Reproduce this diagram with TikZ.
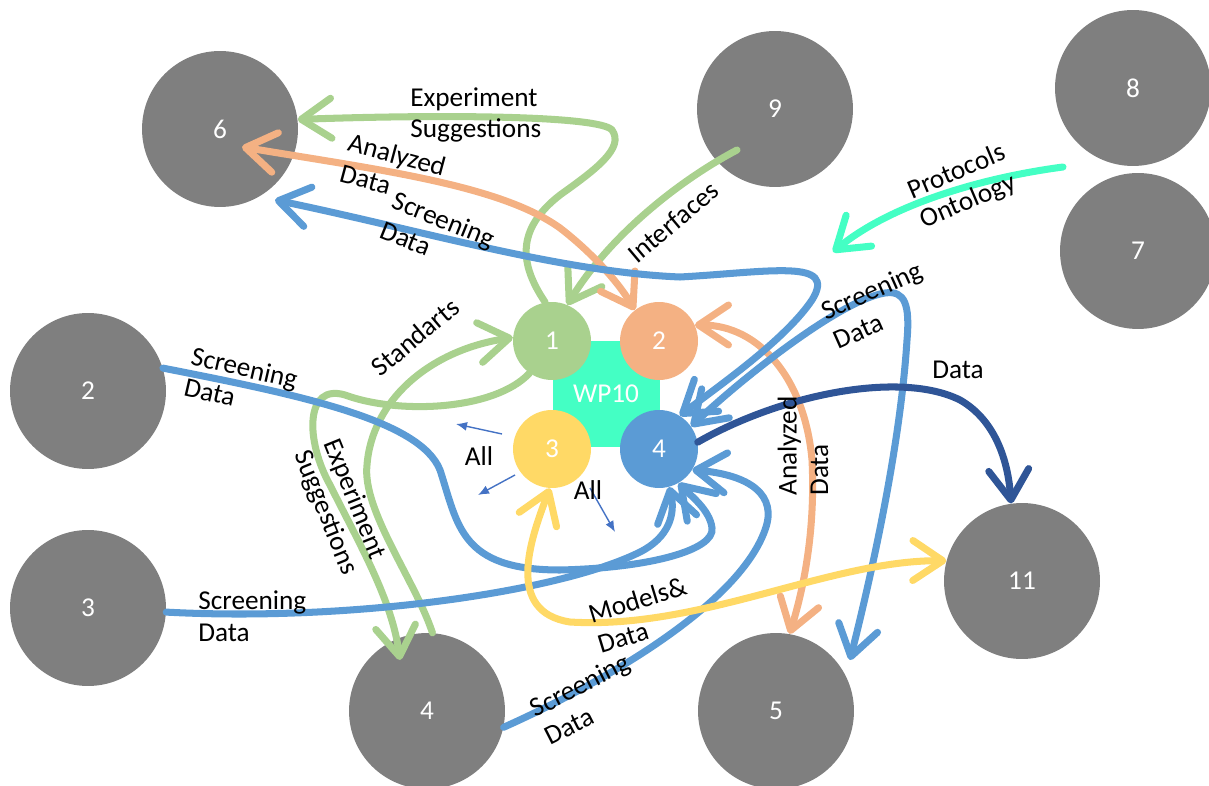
\documentclass[tikz,border=0pt]{standalone}
\usepackage{fontspec}
\setmainfont{Carlito}
\usetikzlibrary{arrows.meta}
\definecolor{gry}{HTML}{7F7F7F}
\definecolor{grn}{HTML}{A9D18E}
\definecolor{org}{HTML}{F4B183}
\definecolor{blu}{HTML}{5B9BD5}
\definecolor{dblu}{HTML}{2F5597}
\definecolor{ylw}{HTML}{FFD966}
\definecolor{aqu}{HTML}{44FFC4}
\definecolor{allblu}{HTML}{4472C4}
\newcommand{\flowwd}{4pt}
\newcommand{\bigd}{3.12cm}
\newcommand{\smalld}{1.56cm}
\newcommand{\barb}{Straight Barb[length=6mm,width=8mm,round]}

\begin{document}
\begin{tikzpicture}[x=0.02cm, y=-0.02cm, font=\fontsize{15.5pt}{18pt}\selectfont]
    \tikzset{
        ext/.style={circle, fill=gry, minimum size=\bigd, inner sep=0pt, text=white},
        wp/.style={circle, minimum size=\smalld, inner sep=0pt, text=white},
        flow/.style={line width=\flowwd, line cap=round},
        onehead/.style={-{\barb}},
        twohead/.style={{\barb}-{\barb}},
        lbl/.style={align=left, inner sep=0pt},
        allarrow/.style={draw=allblu, line width=0.8pt, -{Latex[length=2.2mm,width=1.8mm]}}
    }
    \useasboundingbox (0,0) rectangle (1209,786);
    %\draw[help lines, step=50] (0,0) grid (1209,786);
    % partner circles
    \foreach \n/\x/\y in {6/220/129, 9/775/109, 8/1133/88, 7/1138/251, 2/88/391, 3/88/608, 4/427/711, 5/776/711, 11/1022/581} {
        \node[ext] (g\n) at (\x,\y) {\n};
    }
    % WP10 block
    \node[fill=aqu, minimum size=2.14cm, inner sep=0pt, text=white] (wp) at (606,394) {WP10};
    \node[wp, fill=grn] (w1) at (552,341) {1};
    \node[wp, fill=org] (w2) at (659,341) {2};
    \node[wp, fill=ylw] (w3) at (552,449) {3};
    \node[wp, fill=blu] (w4) at (659,449) {4};

    \coordinate (g9in) at ([shift={(-38,41)}]g9.center);
    \coordinate (g4in) at ([shift={(-27,-51)}]g4.center);
    \coordinate (g6in) at ([shift={(22,18)}]g6.center);
    \coordinate (g6b) at ([shift={(55,71)}]g6.center);
    \coordinate (g5in) at ([shift={(74,-51)}]g5.center);
    \coordinate (po) at (1063,167);
    \coordinate (pt) at (833,252);

    % green
    \draw[flow, draw=grn, onehead] (w1.100) .. controls (520,265) and (515,230) .. (560,195) .. controls (595,170) and (625,148) .. (612,130) .. controls (600,116) and (450,114) .. (g6.7);
    \draw[flow, draw=grn, onehead] (g9in) .. controls (680,180) and (610,235) .. (w1.67);
    \draw[flow, draw=grn, onehead] (g4.86) .. controls (415,580) and (362,510) .. (367,465) .. controls (372,400) and (430,350) .. (w1.175);
    \draw[flow, draw=grn, onehead] (w1.235) .. controls (495,410) and (400,415) .. (345,395) .. controls (305,383) and (305,440) .. (330,485) .. controls (360,545) and (392,600) .. (g4in);
    % orange
    \draw[flow, draw=org, twohead] (g6in) .. controls (380,170) and (500,185) .. (560,228) .. controls (595,255) and (620,285) .. (w2.128);
    \draw[flow, draw=org, twohead] (w2.24) .. controls (760,325) and (805,380) .. (812,460) .. controls (816,540) and (800,600) .. (g5.80);
    % blue
    \draw[flow, draw=blu, twohead] (g6b) .. controls (420,230) and (560,272) .. (680,277) .. controls (770,272) and (838,258) .. (812,300) .. controls (785,340) and (720,385) .. (w4.58);
    \draw[flow, draw=blu, twohead] (w4.35) .. controls (740,380) and (840,300) .. (885,293) .. controls (905,290) and (910,305) .. (907,340) .. controls (900,450) and (870,580) .. (g5in);
    \draw[flow, draw=blu, onehead] (g2.17) .. controls (300,395) and (420,420) .. (440,470) .. controls (458,525) and (460,570) .. (560,570) .. controls (650,568) and (715,550) .. (712,528) .. controls (710,510) and (690,495) .. (w4.-60);
    \draw[flow, draw=blu, onehead] (g3.-3) .. controls (350,622) and (560,592) .. (640,552) .. controls (668,538) and (676,515) .. (w4.-75);
    \draw[flow, draw=blu, onehead] (g4.-12) .. controls (620,675) and (740,600) .. (765,530) .. controls (778,495) and (750,475) .. (w4.-32);
    % dark blue, yellow, aqua
    \draw[flow, draw=dblu, onehead] (w4.10) .. controls (780,395) and (900,370) .. (960,400) .. controls (995,420) and (1008,460) .. (g11.98);
    \draw[flow, draw=ylw, twohead] (w3.-93) .. controls (530,540) and (505,612) .. (570,622) .. controls (700,630) and (830,560) .. (g11.165);
    \draw[flow, draw=aqu, onehead] (po) .. controls (980,178) and (890,205) .. (pt);

    % "All" arrows
    \coordinate (a1s) at ([shift={(-50,-15)}]w3.center);
    \coordinate (a1e) at ([shift={(-96,-25)}]w3.center);
    \coordinate (a2s) at ([shift={(-37,26)}]w3.center);
    \coordinate (a2e) at ([shift={(-74,46)}]w3.center);
    \coordinate (a3s) at ([shift={(38,39)}]w3.center);
    \coordinate (a3e) at ([shift={(63,83)}]w3.center);
    \draw[allarrow] (a1s) -- (a1e);
    \draw[allarrow] (a2s) -- (a2e);
    \draw[allarrow] (a3s) -- (a3e);

    % labels
    \node[lbl, anchor=west] (lexp) at (410,115) {Experiment\\Suggestions};
    \node[lbl, rotate=-15] (lana) at (393,170) {Analyzed\\Data};
    \node[lbl, rotate=-22] (lscr6) at (438,234) {Screening\\Data};
    \node[lbl, rotate=-13] (lscr2) at (241,383) {Screening\\Data};
    \node[lbl, anchor=west] (lscr3) at (198,616) {Screening\\Data};
    \node[lbl, rotate=27] (lscr4) at (587,699) {Screening\\Data};
    \node[lbl, rotate=24] (lscr5) at (878,305) {Screening\\Data};
    \node[lbl, rotate=23] (lprot) at (963,187) {Protocols\\Ontology};
    \node[lbl, rotate=17] (lmod) at (642,615) {Models\&\\Data};
    \node[lbl, rotate=40] (lint) at (673,222) {Interfaces};
    \node[lbl, rotate=40] (lstd) at (415,337) {Standarts};
    \node[lbl, rotate=-68] (lexp2) at (340,507) {Experiment\\Suggestions};
    \node[lbl, rotate=90] (lana5) at (803,446) {Analyzed\\Data};
    \node[lbl] (ldat) at (958,370) {Data};
    \node[lbl] (lall1) at (479,456) {All};
    \node[lbl] (lall2) at (588,490) {All};
\end{tikzpicture}
\end{document}
